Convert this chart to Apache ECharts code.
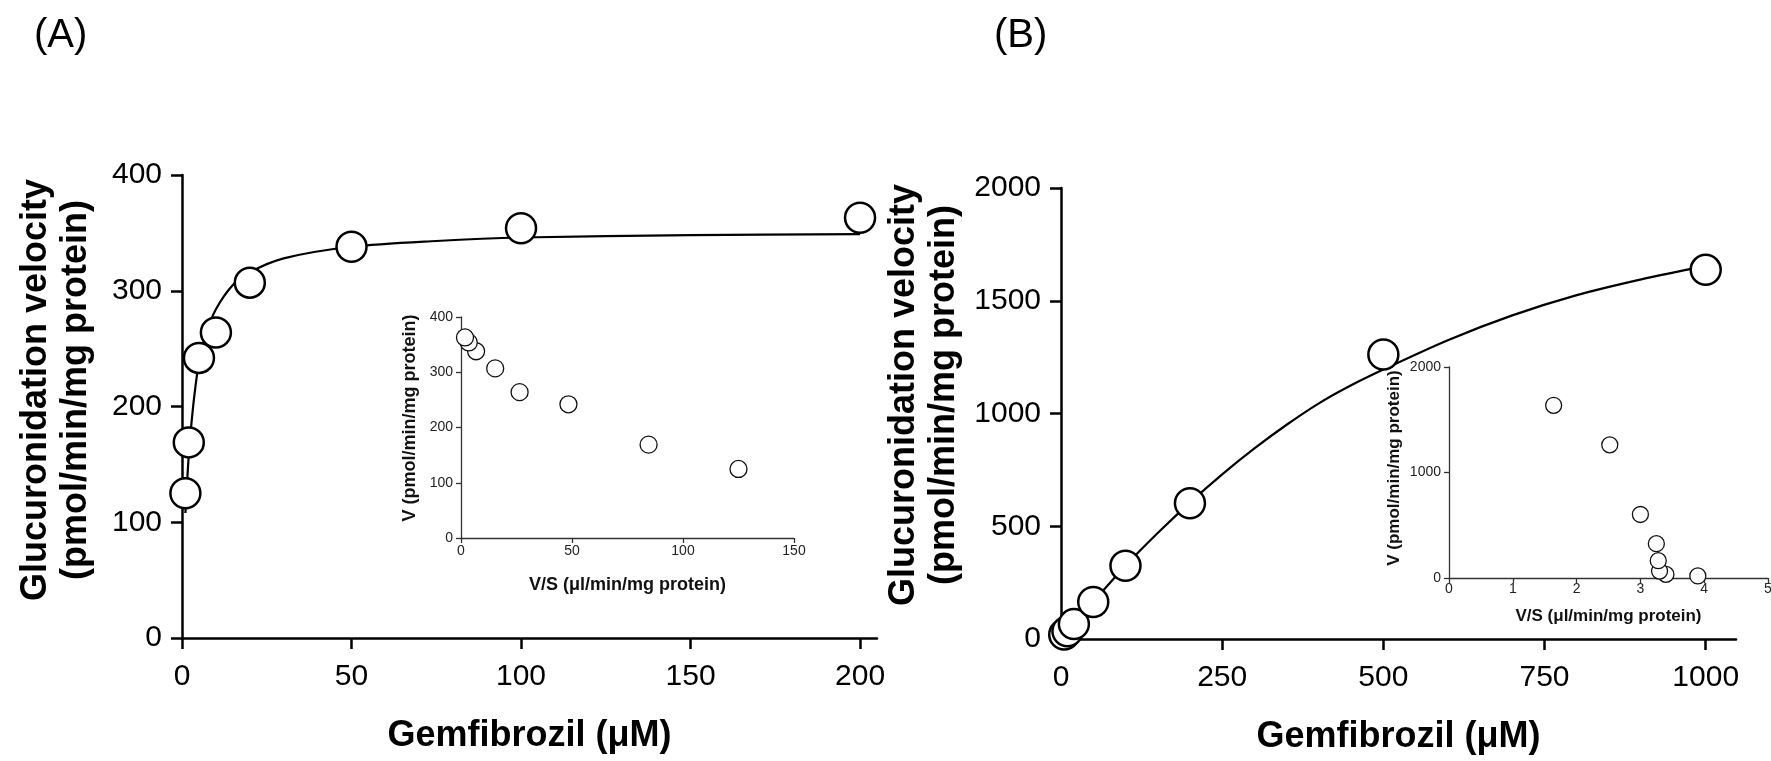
<!DOCTYPE html>
<html>
<head>
<meta charset="utf-8">
<title>Gemfibrozil glucuronidation kinetics</title>
<script src="https://cdn.jsdelivr.net/npm/echarts@6/dist/echarts.min.js"></script>
<style>
  html, body { margin: 0; padding: 0; background: #fff; }
  #chart { width: 1771px; height: 761px; }
</style>
</head>
<body>
<div id="chart"></div>
<script>
// panel A: substrate concentration (uM) vs velocity
const concA = [1, 2, 5, 10, 20, 50, 100, 200]
const velA = [125, 169, 242, 264, 307, 338, 354, 363]
// fitted curve
const fitAx = [1, 2, 3, 4, 5, 7, 10, 15, 20, 30, 50, 75, 100, 150, 200]
const fitAy = [108, 158, 192, 218, 238, 262, 284, 305, 316, 328, 338, 343, 346, 348, 349]
// panel A inset (Eadie-Hofstee): V/S vs V
const eadieAx = [125, 84.5, 48.4, 26.4, 15.4, 6.8, 3.5, 1.8]
const eadieAy = [125, 169, 242, 264, 307, 338, 354, 363]

// panel B
const concB = [5, 10, 20, 50, 100, 200, 500, 1000]
const velB = [19.5, 34, 66, 164, 325, 602, 1262, 1637]
const fitBx = [0, 50, 100, 150, 200, 250, 300, 350, 400, 450, 500, 600, 700, 800, 900, 1000]
const fitBy = [0, 165, 325, 470, 605, 730, 845, 950, 1045, 1125, 1195, 1325, 1435, 1525, 1595, 1655]
const eadieBx = [3.9, 3.4, 3.3, 3.28, 3.25, 3.0, 2.52, 1.64]
const eadieBy = [19.5, 34, 66, 164, 325, 602, 1262, 1637]

// tick labels
const ticksAx = [0, 50, 100, 150, 200]
const ticksBx = [0, 250, 500, 750, 1000]

const FONT = '"Liberation Sans", Arial, Helvetica, sans-serif'
const xTitle = 'Gemfibrozil (μM)'
const insetXTitle = 'V/S (μl/min/mg protein)'
const insetYTitle = 'V (pmol/min/mg protein)'

const pairs = (xs, ys) => xs.map((x, i) => [x, ys[i]])
const plain = v => String(v)

function mainAxis (opt) {
  return Object.assign({
    type: 'value',
    axisLine: { show: true, onZero: false, lineStyle: { color: '#000', width: 2.5 } },
    axisTick: { show: true, length: 11, lineStyle: { color: '#000', width: 2.5 } },
    splitLine: { show: false }
  }, opt)
}

function insetAxis (opt) {
  return Object.assign({
    type: 'value',
    axisLine: { show: true, onZero: false, lineStyle: { color: '#333', width: 1.3 } },
    axisTick: { show: true, length: 5, lineStyle: { color: '#333', width: 1.3 } },
    splitLine: { show: false }
  }, opt)
}

function mainLabel (margin, custom) {
  const l = { color: '#000', fontSize: 30, fontFamily: FONT, margin, formatter: plain }
  if (custom) l.customValues = custom
  return l
}

function insetLabel (margin) {
  return { color: '#222', fontSize: 14, fontFamily: FONT, margin, formatter: plain }
}

const bigDot = { color: '#fff', borderColor: '#000', borderWidth: 2.5, opacity: 1 }
const smallDot = { color: '#fff', borderColor: '#111', borderWidth: 1.3, opacity: 1 }

const chart = echarts.init(document.getElementById('chart'), null, { renderer: 'canvas' })

const option = {
  backgroundColor: '#fff',
  animation: false,
  grid: [
    { left: 182, top: 175, width: 695, height: 463, outerBoundsMode: 'none' },
    { left: 461, top: 317, width: 333, height: 221, outerBoundsMode: 'none' },
    { left: 1061, top: 188, width: 675, height: 451, outerBoundsMode: 'none' },
    { left: 1449, top: 367, width: 319, height: 211, outerBoundsMode: 'none' }
  ],
  xAxis: [
    mainAxis({
      gridIndex: 0, min: 0, max: 205,
      axisTick: { show: true, length: 11, lineStyle: { color: '#000', width: 2.5 }, customValues: ticksAx },
      axisLabel: mainLabel(24, ticksAx),
      name: xTitle, nameLocation: 'middle', nameGap: 80,
      nameTextStyle: { color: '#000', fontSize: 36, fontWeight: 'bold', fontFamily: FONT }
    }),
    insetAxis({
      gridIndex: 1, min: 0, max: 150, interval: 50,
      axisLabel: insetLabel(6),
      name: insetXTitle, nameLocation: 'middle', nameGap: 38,
      nameTextStyle: { color: '#111', fontSize: 18, fontWeight: 'bold', fontFamily: FONT }
    }),
    mainAxis({
      gridIndex: 2, min: 0, max: 1047,
      axisTick: { show: true, length: 11, lineStyle: { color: '#000', width: 2.5 }, customValues: ticksBx },
      axisLabel: mainLabel(24, ticksBx),
      name: xTitle, nameLocation: 'middle', nameGap: 80,
      nameTextStyle: { color: '#000', fontSize: 36, fontWeight: 'bold', fontFamily: FONT }
    }),
    insetAxis({
      gridIndex: 3, min: 0, max: 5, interval: 1,
      axisLabel: insetLabel(4),
      name: insetXTitle, nameLocation: 'middle', nameGap: 30,
      nameTextStyle: { color: '#111', fontSize: 17, fontWeight: 'bold', fontFamily: FONT }
    })
  ],
  yAxis: [
    mainAxis({ gridIndex: 0, min: 0, max: 400, interval: 100, axisLabel: mainLabel(20) }),
    insetAxis({ gridIndex: 1, min: 0, max: 400, interval: 100, axisLabel: insetLabel(8) }),
    mainAxis({ gridIndex: 2, min: 0, max: 2000, interval: 500, axisLabel: mainLabel(20) }),
    insetAxis({ gridIndex: 3, min: 0, max: 2000, interval: 1000, axisLabel: insetLabel(8) })
  ],
  graphic: [
    { type: 'text', x: 34, y: 36, style: { text: '(A)', font: '40px ' + FONT, fill: '#000', verticalAlign: 'middle' } },
    { type: 'text', x: 994, y: 36, style: { text: '(B)', font: '40px ' + FONT, fill: '#000', verticalAlign: 'middle' } },
    { type: 'text', x: 36, y: 390, rotation: Math.PI / 2, style: { text: 'Glucuronidation velocity', font: 'bold 36px ' + FONT, fill: '#000', align: 'center', verticalAlign: 'middle' } },
    { type: 'text', x: 76, y: 390, rotation: Math.PI / 2, style: { text: '(pmol/min/mg protein)', font: 'bold 36px ' + FONT, fill: '#000', align: 'center', verticalAlign: 'middle' } },
    { type: 'text', x: 904, y: 395, rotation: Math.PI / 2, style: { text: 'Glucuronidation velocity', font: 'bold 36px ' + FONT, fill: '#000', align: 'center', verticalAlign: 'middle' } },
    { type: 'text', x: 944, y: 395, rotation: Math.PI / 2, style: { text: '(pmol/min/mg protein)', font: 'bold 36px ' + FONT, fill: '#000', align: 'center', verticalAlign: 'middle' } },
    { type: 'text', x: 410, y: 418, rotation: Math.PI / 2, style: { text: insetYTitle, font: 'bold 18px ' + FONT, fill: '#111', align: 'center', verticalAlign: 'middle' } },
    { type: 'text', x: 1394, y: 468, rotation: Math.PI / 2, style: { text: insetYTitle, font: 'bold 17px ' + FONT, fill: '#111', align: 'center', verticalAlign: 'middle' } }
  ],
  series: [
    {
      name: 'fit A', type: 'line', xAxisIndex: 0, yAxisIndex: 0,
      data: pairs(fitAx, fitAy), smooth: 0.3, symbol: 'none',
      lineStyle: { color: '#000', width: 2.2 }, z: 2, silent: true
    },
    {
      name: 'A', type: 'scatter', xAxisIndex: 0, yAxisIndex: 0, clip: false,
      data: pairs(concA, velA), symbol: 'circle', symbolSize: 30, itemStyle: bigDot, z: 3
    },
    {
      name: 'A inset', type: 'scatter', xAxisIndex: 1, yAxisIndex: 1, clip: false,
      data: pairs(eadieAx, eadieAy), symbol: 'circle', symbolSize: 17, itemStyle: smallDot, z: 3
    },
    {
      name: 'fit B', type: 'line', xAxisIndex: 2, yAxisIndex: 2,
      data: pairs(fitBx, fitBy), smooth: 0.3, symbol: 'none',
      lineStyle: { color: '#000', width: 2.2 }, z: 2, silent: true
    },
    {
      name: 'B', type: 'scatter', xAxisIndex: 2, yAxisIndex: 2, clip: false,
      data: pairs(concB, velB), symbol: 'circle', symbolSize: 30, itemStyle: bigDot, z: 3
    },
    {
      name: 'B inset', type: 'scatter', xAxisIndex: 3, yAxisIndex: 3, clip: false,
      data: pairs(eadieBx, eadieBy), symbol: 'circle', symbolSize: 16, itemStyle: smallDot, z: 3
    }
  ]
}

chart.setOption(option)
</script>
</body>
</html>
